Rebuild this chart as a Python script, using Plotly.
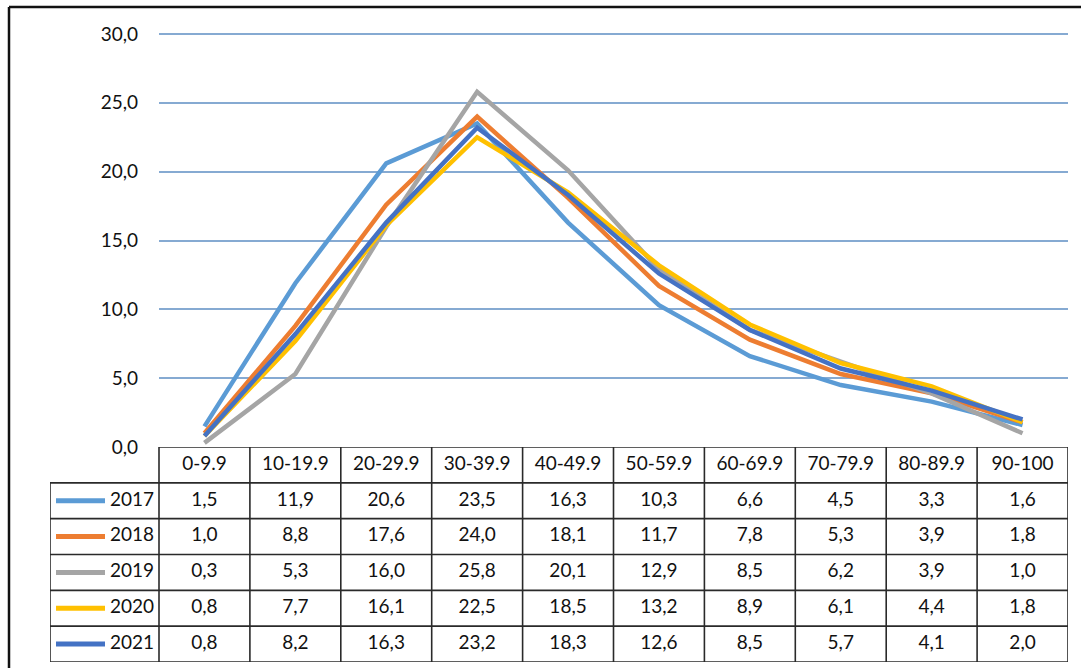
import plotly.graph_objects as go

categories = ["0-9.9", "10-19.9", "20-29.9", "30-39.9", "40-49.9",
              "50-59.9", "60-69.9", "70-79.9", "80-89.9", "90-100"]
years = ["2017", "2018", "2019", "2020", "2021"]
v2017 = [1.5, 11.9, 20.6, 23.5, 16.3, 10.3, 6.6, 4.5, 3.3, 1.6]
v2018 = [1.0, 8.8, 17.6, 24.0, 18.1, 11.7, 7.8, 5.3, 3.9, 1.8]
v2019 = [0.3, 5.3, 16.0, 25.8, 20.1, 12.9, 8.5, 6.2, 3.9, 1.0]
v2020 = [0.8, 7.7, 16.1, 22.5, 18.5, 13.2, 8.9, 6.1, 4.4, 1.8]
v2021 = [0.8, 8.2, 16.3, 23.2, 18.3, 12.6, 8.5, 5.7, 4.1, 2.0]
series = [v2017, v2018, v2019, v2020, v2021]
colors = ["#5B9BD5", "#ED7D31", "#A5A5A5", "#FFC000", "#4472C4"]
y_ticks = [0, 5, 10, 15, 20, 25, 30]

W, H = 1081, 668
FONT = "Lato"
FS = 19
TXT = "#111111"

# pixel layout
plot_left, plot_right = 159, 1068
plot_top, plot_bottom = 34, 447
table_bottom = 662
label_left = 50
ncol = len(categories)
cw = (plot_right - plot_left) / ncol
lw = (plot_left - label_left) / cw  # label column width in column units

y_max = 30.0
y_pad = 0.15
px_per_unit = (plot_bottom - plot_top) / y_max
dom_top = plot_top - y_pad * px_per_unit

fig = go.Figure()

# main lines
for name, vals, col in zip(years, series, colors):
    fig.add_trace(go.Scatter(x=categories, y=vals, mode="lines", name=name,
                             line=dict(color=col, width=4.5),
                             xaxis="x", yaxis="y", showlegend=False,
                             hoverinfo="skip"))

# table text: header
fig.add_trace(go.Scatter(x=list(range(ncol)), y=[0] * ncol, mode="text",
                         text=categories, textposition="middle center",
                         textfont=dict(family=FONT, size=FS, color=TXT),
                         xaxis="x2", yaxis="y2", showlegend=False, hoverinfo="skip"))
# table values
for r, vals in enumerate(series, start=1):
    fig.add_trace(go.Scatter(x=list(range(ncol)), y=[r] * ncol, mode="text",
                             text=[f"{v:.1f}".replace(".", ",") for v in vals],
                             textposition="middle center",
                             textfont=dict(family=FONT, size=FS, color=TXT),
                             xaxis="x2", yaxis="y2", showlegend=False, hoverinfo="skip"))

# legend keys in the label column
x_lab0 = -0.5 - lw
for r, (name, col) in enumerate(zip(years, colors), start=1):
    fig.add_trace(go.Scatter(x=[x_lab0 + 6 / cw, x_lab0 + 55 / cw], y=[r, r],
                             mode="lines", line=dict(color=col, width=5),
                             xaxis="x2", yaxis="y2", showlegend=False, hoverinfo="skip"))
    fig.add_trace(go.Scatter(x=[-0.5 - 5 / cw], y=[r], mode="text", text=[name],
                             textposition="middle left",
                             textfont=dict(family=FONT, size=FS, color=TXT),
                             xaxis="x2", yaxis="y2", showlegend=False, hoverinfo="skip"))

nrow = len(series) + 1
shapes = []
bcol = "#2a2a2a"
bw = 1.6
shapes.append(dict(type="line", xref="x2", yref="y2", x0=-0.5, x1=ncol - 0.5,
                   y0=-0.5, y1=-0.5, line=dict(color=bcol, width=bw)))
for r in range(nrow):
    shapes.append(dict(type="line", xref="x2", yref="y2", x0=x_lab0, x1=ncol - 0.5,
                       y0=r + 0.5, y1=r + 0.5, line=dict(color=bcol, width=bw)))
for k in range(ncol + 1):
    shapes.append(dict(type="line", xref="x2", yref="y2", x0=k - 0.5, x1=k - 0.5,
                       y0=-0.5, y1=nrow - 0.5, line=dict(color=bcol, width=bw)))
shapes.append(dict(type="line", xref="x2", yref="y2", x0=x_lab0, x1=x_lab0,
                   y0=0.5, y1=nrow - 0.5, line=dict(color=bcol, width=bw)))
# outer chart frame (top and left)
shapes.append(dict(type="line", xref="paper", yref="paper", x0=9 / W, x1=1,
                   y0=1 - 7 / H, y1=1 - 7 / H, line=dict(color="#111", width=2.5)))
shapes.append(dict(type="line", xref="paper", yref="paper", x0=9 / W, x1=9 / W,
                   y0=0, y1=1 - 7 / H, line=dict(color="#111", width=2.5)))

fig.update_layout(
    width=W, height=H,
    margin=dict(l=0, r=0, t=0, b=0, pad=0, autoexpand=False),
    paper_bgcolor="white", plot_bgcolor="white",
    separators=",.",
    font=dict(family=FONT, size=FS, color=TXT),
    shapes=shapes,
    xaxis=dict(domain=[plot_left / W, plot_right / W], type="category",
               range=[-0.5, ncol - 0.5], showticklabels=False, showgrid=False,
               zeroline=False, showline=False, ticks="", anchor="y"),
    yaxis=dict(domain=[1 - plot_bottom / H, 1 - dom_top / H], range=[0, y_max + y_pad],
               tickvals=y_ticks, tickformat=".1f", showgrid=True,
               gridcolor="#86AAD2", gridwidth=1.5, zeroline=False,
               showline=False, ticks="", ticklabelstandoff=20,
               tickfont=dict(family=FONT, size=FS, color=TXT), anchor="x"),
    xaxis2=dict(domain=[label_left / W, plot_right / W],
                range=[x_lab0, ncol - 0.5], visible=False, anchor="y2"),
    yaxis2=dict(domain=[1 - table_bottom / H, 1 - plot_bottom / H],
                range=[nrow - 0.5, -0.5], visible=False, anchor="x2"),
)

fig.write_html("out.html")
